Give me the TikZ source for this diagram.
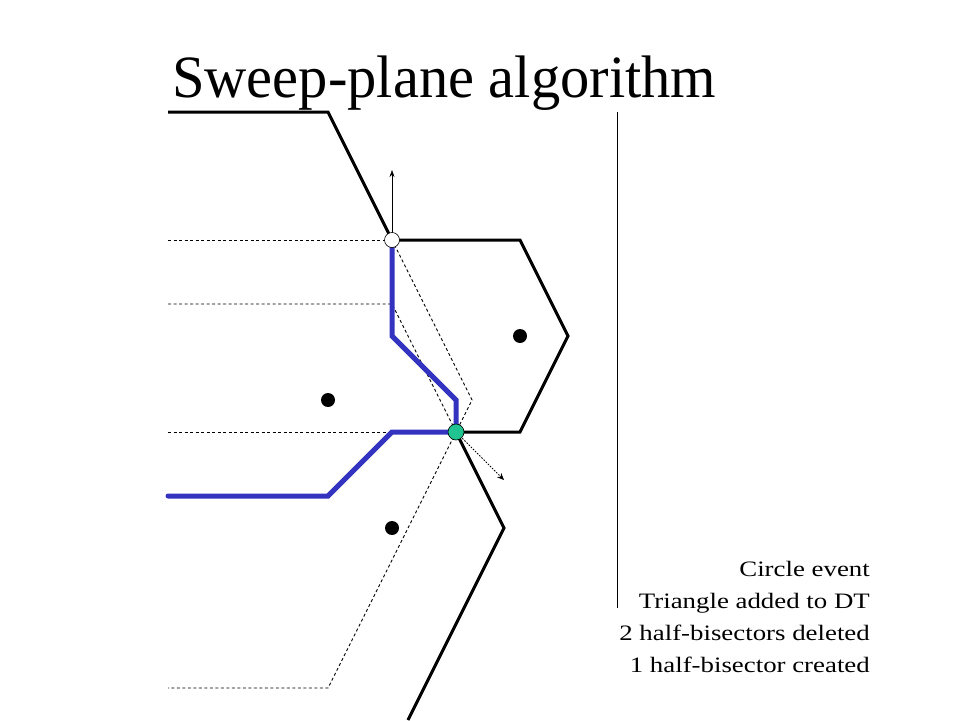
\documentclass[tikz,border=0pt]{standalone}
\usepackage{fontspec}
\setmainfont{Liberation Serif}
\usetikzlibrary{arrows.meta}
\definecolor{bisect}{RGB}{51,51,192}
\definecolor{evgreen}{RGB}{32,196,144}
\tikzset{
  edge/.style={line width=3pt,black},
  bis/.style={line width=5pt,bisect,line join=miter,line cap=round},
  guide/.style={line width=0.9pt,dash pattern=on 3pt off 2.5pt},
  site/.style={circle,fill=black,inner sep=0pt,minimum size=14pt},
  vtx/.style={circle,draw=black,line width=0.6pt,inner sep=0pt,minimum size=15pt},
  lbl/.style={anchor=base east,inner sep=0pt,xscale=1.22,font=\fontsize{22}{26}\selectfont}
}
\begin{document}
\begin{tikzpicture}[x=1pt,y=-1pt]
\useasboundingbox (0,0) rectangle (960,720);
% coordinates
\coordinate (tl) at (168,112);
\coordinate (tk) at (328,112);
\coordinate (h1) at (520,240);
\coordinate (h2) at (568,336);
\coordinate (h3) at (520,432);
\coordinate (b1) at (504,528);
\coordinate (b2) at (408,720);
\coordinate (d1) at (168,240);
\coordinate (d2) at (168,304);
\coordinate (d2e) at (392,304);
\coordinate (d3) at (168,432);
\coordinate (d4) at (168,688);
\coordinate (d4e) at (328,688);
\coordinate (dx) at (472,400);
\coordinate (u1) at (392,336);
\coordinate (u2) at (456,400);
\coordinate (l1) at (392,432);
\coordinate (l2) at (328,496);
\coordinate (l3) at (168,496);
\coordinate (up) at (392,170);
\coordinate (dn) at (504,480);
\coordinate (st) at (617,112);
\coordinate (sb) at (617,608);
\node[inner sep=0pt] (W) at (392,240) {};
\node[inner sep=0pt] (G) at (456,432) {};
% guides
\draw[guide] (d1) -- (W.center);
\draw[guide] (d2) -- (d2e) -- (G.center);
\draw[guide] (d3) -- (G.center);
\draw[guide] (W.center) -- (dx) -- (d4e) -- (d4);
% sweep line
\draw[line width=1pt] (st) -- (sb);
% edges
\draw[edge,line join=miter] (tl) -- (tk) -- (W.center) -- (h1) -- (h2) -- (h3) -- (G.center) -- (b1) -- (b2);
% bisectors
\draw[bis] (W.center) -- (u1) -- (u2) -- (G.center);
\draw[bis] (G.center) -- (l1) -- (l2) -- (l3);
% arrows
\draw[line width=0.6pt,-{Stealth[length=7pt,width=5pt]}] (W.center) -- (up);
\draw[line width=0.8pt,dash pattern=on 1.5pt off 1.5pt,-{Stealth[length=7pt,width=6pt]}] (G.center) -- (dn);
% sites
\node[site] (s1) at (520,336) {};
\node[site] (s2) at (328,400) {};
\node[site] (s3) at (392,528) {};
% vertices
\node[vtx,fill=white] (Wv) at (W) {};
\node[vtx,fill=evgreen,minimum size=16pt] (Gv) at (G) {};
% title
\node[anchor=base west,inner sep=0pt,xscale=0.975,font=\fontsize{60}{66}\selectfont] (title) at (172,97) {Sweep-plane algorithm};
% labels
\node[lbl] (t1) at (870,576) {Circle event};
\node[lbl] (t2) at (870,608) {Triangle added to DT};
\node[lbl] (t3) at (870,640) {2 half-bisectors deleted};
\node[lbl] (t4) at (870,672) {1 half-bisector created};
\end{tikzpicture}
\end{document}
